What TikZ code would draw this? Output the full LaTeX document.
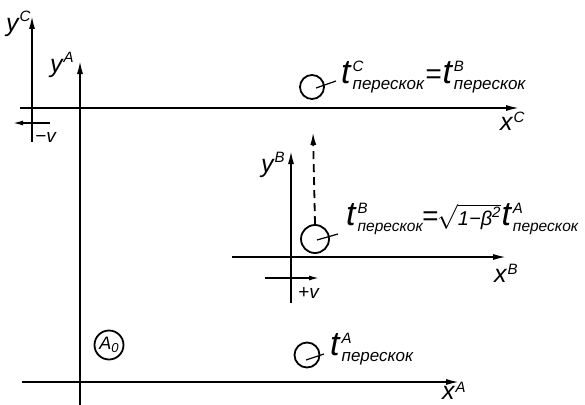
\documentclass[tikz,border=0pt]{standalone}
\usepackage{fontspec}
\setmainfont{Liberation Sans}
\usetikzlibrary{arrows.meta, positioning, calc}

\newcommand{\subsize}{17}
\newcommand{\supfont}{\fontsize{15}{15}\selectfont\itshape}
\newcommand{\subfont}{\fontsize{\subsize}{\subsize}\selectfont\itshape}
\newcommand{\tper}[1]{{\fontsize{34}{34}\selectfont t}\kern2pt\raisebox{-6pt}{\rlap{\raisebox{18pt}{\supfont #1}}\subfont перескок}}
\newcommand{\axlbl}[3]{#1\kern1pt\raisebox{#3}{\supfont #2}}

\begin{document}
\begin{tikzpicture}[x=1pt, y=-1pt,
      axis/.style={line width=2pt, -{Latex[length=14pt, width=6pt]}},
      vel/.style={line width=1.8pt, -{Latex[length=11pt, width=5pt]}},
      lbl/.style={font=\fontsize{28}{30}\selectfont\itshape, inner sep=0pt, anchor=base west},
      axl/.style={font=\fontsize{25}{28}\selectfont\itshape, inner sep=0pt, anchor=base west},
      ring/.style={draw, circle, line width=1.8pt, inner sep=0pt},
      leader/.style={line width=1.2pt}
    ]
    \useasboundingbox (0,0) rectangle (585,404);

    % frame C
    \coordinate (yC0) at (32,142);
    \coordinate (yC1) at (32,15);
    \coordinate (xC0) at (20,108);
    \coordinate (xC1) at (520,108);
    \draw[axis] (yC0) -- (yC1);
    \draw[axis] (xC0) -- (xC1);
    \node[axl] (yClbl) at (6,32) {\axlbl{y}{C}{10pt}};
    \node[axl] (xClbl) at (500,130) {\axlbl{x}{C}{8pt}};
    \coordinate (vC0) at (50,123);
    \coordinate (vC1) at (12,123);
    \draw[vel] (vC0) -- (vC1);
    \node[axl, font=\fontsize{19}{21}\selectfont\itshape] (vClbl) at (35,142) {−v};

    % frame A
    \coordinate (yA0) at (80,406);
    \coordinate (yA1) at (80,60);
    \coordinate (xA0) at (22,382);
    \coordinate (xA1) at (460,382);
    \draw[axis] (yA0) -- (yA1);
    \draw[axis] (xA0) -- (xA1);
    \node[axl] (yAlbl) at (50,72) {\axlbl{y}{A}{10pt}};
    \node[axl] (xAlbl) at (442,399) {\axlbl{x}{A}{7pt}};
    \node[ring, minimum size=29pt, font=\fontsize{18}{18}\selectfont\itshape] (A0) at (109,345) {A{\fontsize{13}{13}\selectfont\raisebox{-3pt}{0}}};

    % frame B
    \coordinate (yB0) at (291,303);
    \coordinate (yB1) at (291,150);
    \coordinate (xB0) at (232,257);
    \coordinate (xB1) at (507,257);
    \draw[axis] (yB0) -- (yB1);
    \draw[axis] (xB0) -- (xB1);
    \node[axl] (yBlbl) at (261,172) {\axlbl{y}{B}{10pt}};
    \node[axl] (xBlbl) at (494,282) {\axlbl{x}{B}{8pt}};
    \coordinate (vB0) at (265,278);
    \coordinate (vB1) at (320,278);
    \draw[vel] (vB0) -- (vB1);
    \node[axl, font=\fontsize{19}{21}\selectfont\itshape] (vBlbl) at (298,298) {+v};

    % events
    \node[ring, minimum size=24pt] (cC) at (312,87) {};
    \node[ring, minimum size=28pt] (cB) at (315,239) {};
    \node[ring, minimum size=25pt] (cA) at (307,355) {};
    \coordinate (top) at (313,132);
    \draw[line width=1.8pt, dash pattern=on 8pt off 5pt, -{Latex[length=13pt, width=6pt]}] (cB.north) -- (top);

    \node[lbl] (tC) at (341,83) {\tper{C}\kern1pt=\kern1pt\tper{B}};
    \node[lbl] (tB) at (346,225) {\renewcommand{\subsize}{15.5}\tper{B}\kern-1pt=\kern-1pt$\sqrt{\hbox{\fontsize{20}{22}\selectfont\itshape 1−β\raisebox{8pt}{\supfont 2}}}$\kern1pt\tper{A}};
    \node[lbl] (tA) at (330,355) {\tper{A}};

    \coordinate (ldC) at (336,81);
    \coordinate (ldB) at (338,234);
    \coordinate (ldA) at (324,354);
    \draw[leader] ([xshift=4pt,yshift=-1pt]cC.center) -- (ldC);
    \draw[leader] ([xshift=2pt,yshift=-1pt]cB.center) -- (ldB);
    \draw[leader] ([xshift=-1pt,yshift=-5pt]cA.center) -- (ldA);
  \end{tikzpicture}
\end{document}
